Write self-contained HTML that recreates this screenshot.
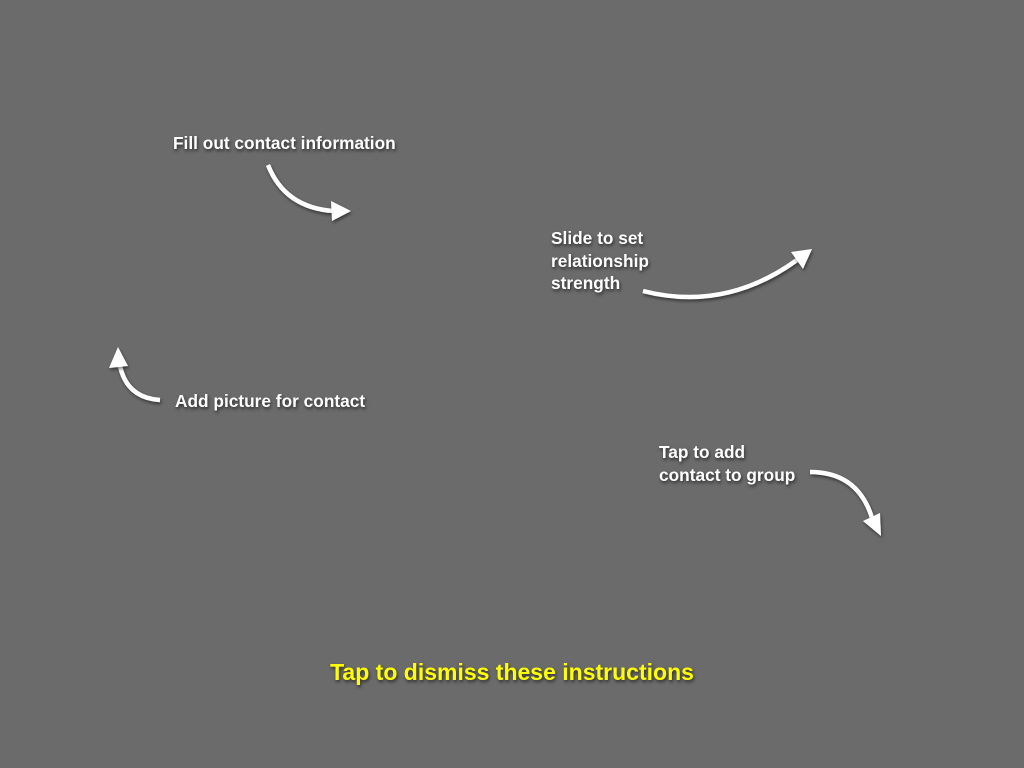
<!DOCTYPE html>
<html><head><meta charset="utf-8"><style>
html,body{margin:0;padding:0;width:1024px;height:768px;background:#6b6b6b;overflow:hidden}
.t{position:absolute;color:#fff;font-family:"Liberation Sans",sans-serif;font-weight:bold;font-size:17.3px;line-height:22.5px;text-shadow:1px 2px 3px rgba(0,0,0,0.6);white-space:nowrap}
svg{position:absolute;left:0;top:0}
</style></head><body>
<svg width="1024" height="768">
<defs><filter id="sh" x="-20%" y="-20%" width="140%" height="140%"><feDropShadow dx="1" dy="2" stdDeviation="1.5" flood-color="#000" flood-opacity="0.5"/></filter></defs>
<g filter="url(#sh)" fill="none" stroke="#fff" stroke-width="4.5" stroke-linecap="butt">
<path d="M268 165 Q285 208 334 211"/>
<path d="M643 291 Q725 312 797 260"/>
<path d="M160 400 Q127 398 120 366"/>
<path d="M810 472 Q858 472 872 518"/>
</g>
<g filter="url(#sh)" fill="#fff">
<polygon points="351,211 331,201 332,221"/>
<polygon points="812,249 791,252 803,269"/>
<polygon points="118,347 109,368 128,366"/>
<polygon points="881,536 863,521 880,513"/>
</g>
</svg>
<div class="t" style="left:173px;top:132px">Fill out contact information</div>
<div class="t" style="left:551px;top:227px">Slide to set<br>relationship<br>strength</div>
<div class="t" style="left:175px;top:390px">Add picture for contact</div>
<div class="t" style="left:659px;top:441px">Tap to add<br>contact to group</div>
<div class="t" style="left:0;width:1024px;text-align:center;top:661px;font-size:23px;color:#ffff00">Tap to dismiss these instructions</div>
</body></html>
